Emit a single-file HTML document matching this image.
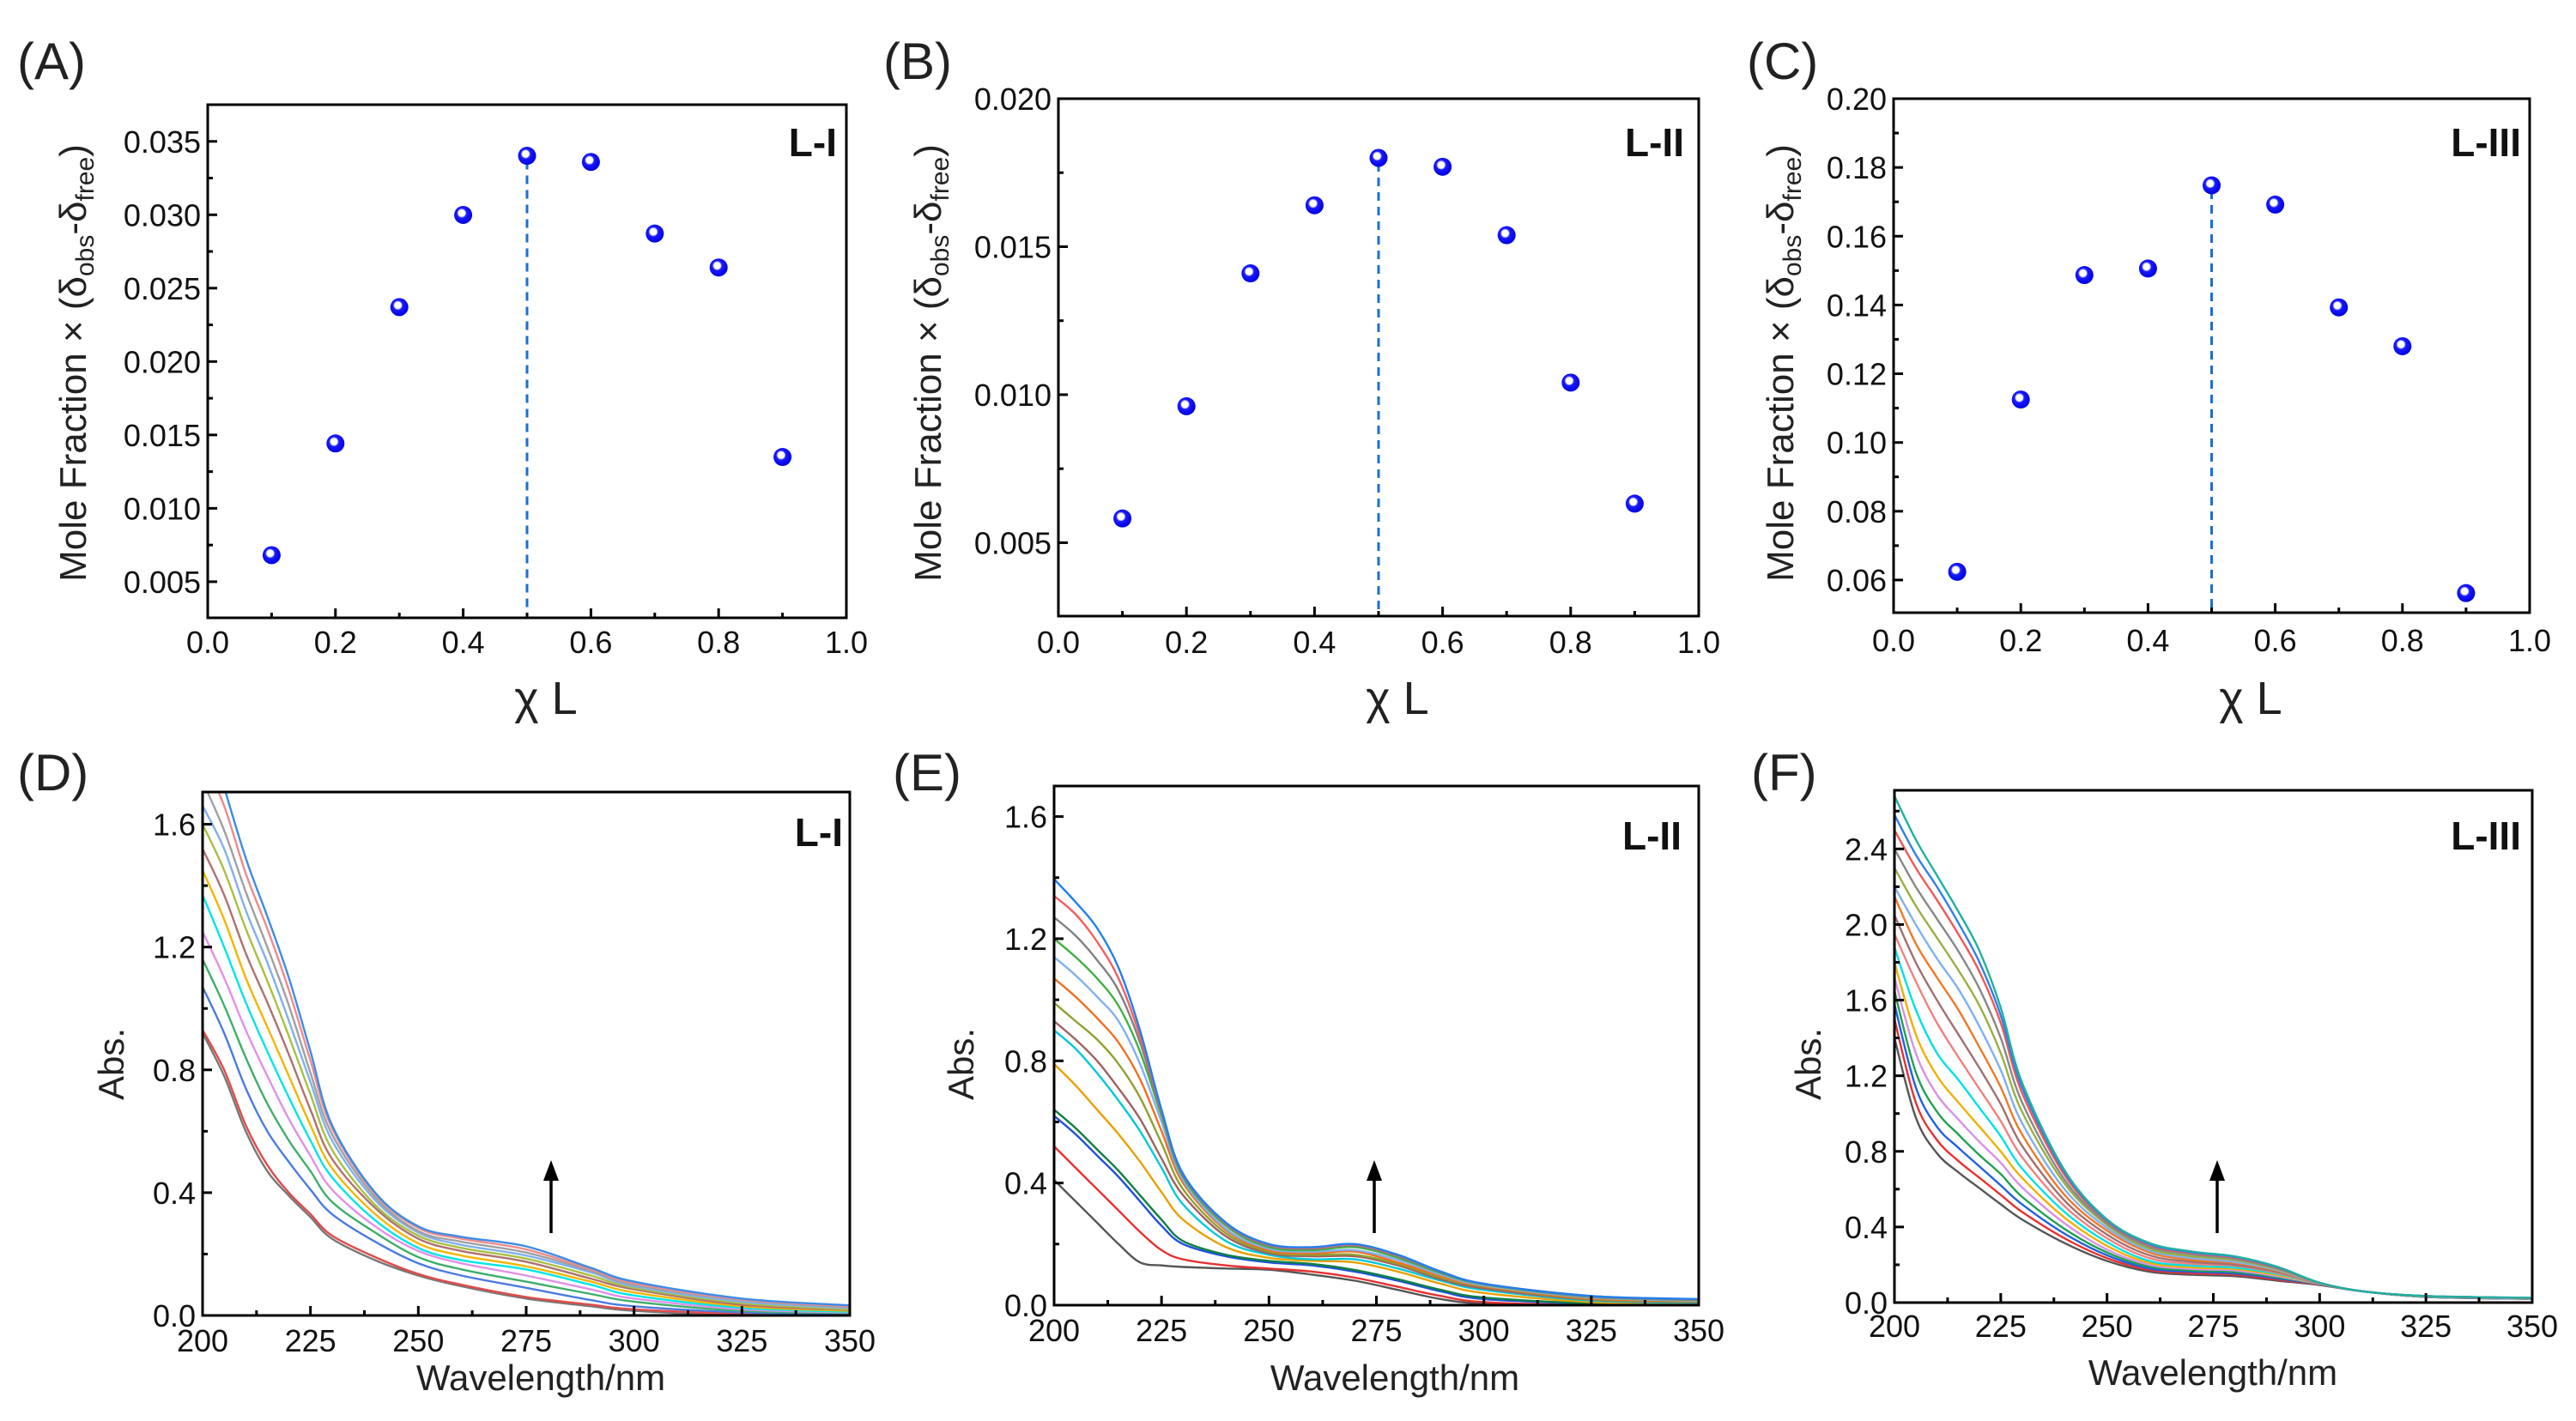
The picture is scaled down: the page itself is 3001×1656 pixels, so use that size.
<!DOCTYPE html>
<html><head><meta charset="utf-8"><style>
html,body{margin:0;padding:0;background:#fff;}
svg{display:block;font-family:"Liberation Sans",Arial,sans-serif;}
</style></head><body>
<svg id="fig" width="3001" height="1656" viewBox="0 0 3001 1656" xmlns="http://www.w3.org/2000/svg">
<defs>
<radialGradient id="ball" cx="0.42" cy="0.4" r="0.6">
<stop offset="0" stop-color="#ffffff"/><stop offset="0.3" stop-color="#ffffff"/><stop offset="0.45" stop-color="#1a1aff"/><stop offset="1" stop-color="#0000e0"/>
</radialGradient>
</defs>
</svg>
<script>
// ---------- Job plot data ----------
const jobX = [0.1,0.2,0.3,0.4,0.5,0.6,0.7,0.8,0.9];
const jobA = [0.00681,0.01442,0.02371,0.02999,0.03402,0.03360,0.02872,0.02641,0.01350];
const jobB = [0.00582,0.00961,0.01410,0.01640,0.01800,0.01770,0.01539,0.01041,0.00632];
const jobC = [0.0624,0.1125,0.1487,0.1506,0.1748,0.1692,0.1393,0.1280,0.0562];
const jobXTicks = [0,0.2,0.4,0.6,0.8,1.0];
const jobATicks = [0.005,0.010,0.015,0.020,0.025,0.030,0.035];
const jobBTicks = [0.005,0.010,0.015,0.020];
const jobCTicks = [0.06,0.08,0.10,0.12,0.14,0.16,0.18,0.20];
// ---------- UV spectra data ----------
const wlD = [200,205,210,215,220,225,230,240,250,260,275,290,300,325,350];
const specD = [
[0.92,0.78,0.60,0.47,0.39,0.32,0.25,0.18,0.13,0.095,0.055,0.03,0.015,0.0,0.0],
[0.93,0.80,0.62,0.49,0.40,0.33,0.26,0.19,0.135,0.10,0.06,0.035,0.02,0.005,0.0],
[1.07,0.92,0.74,0.60,0.50,0.41,0.33,0.24,0.17,0.13,0.09,0.05,0.03,0.01,0.005],
[1.16,1.01,0.84,0.69,0.57,0.47,0.37,0.27,0.19,0.15,0.11,0.07,0.045,0.015,0.008],
[1.25,1.10,0.93,0.78,0.64,0.52,0.41,0.29,0.21,0.17,0.13,0.085,0.055,0.02,0.01],
[1.37,1.20,1.02,0.86,0.71,0.57,0.45,0.31,0.22,0.18,0.15,0.10,0.065,0.025,0.012],
[1.45,1.29,1.10,0.94,0.78,0.62,0.48,0.33,0.235,0.195,0.16,0.11,0.075,0.03,0.015],
[1.52,1.37,1.18,1.02,0.85,0.67,0.51,0.35,0.25,0.21,0.175,0.12,0.085,0.035,0.018],
[1.60,1.45,1.26,1.09,0.91,0.72,0.54,0.36,0.26,0.22,0.185,0.13,0.09,0.04,0.02],
[1.66,1.52,1.32,1.15,0.96,0.76,0.57,0.375,0.27,0.23,0.195,0.14,0.095,0.045,0.024],
[1.74,1.58,1.38,1.20,1.01,0.79,0.59,0.385,0.275,0.24,0.205,0.145,0.10,0.05,0.027],
[1.82,1.66,1.44,1.26,1.06,0.83,0.61,0.395,0.285,0.25,0.215,0.15,0.105,0.052,0.03],
[1.95,1.72,1.49,1.30,1.10,0.86,0.62,0.40,0.29,0.256,0.225,0.155,0.11,0.055,0.033]
];
const colD = ["#777777","#e24a4a","#4a7be0","#3fae6a","#e090e8","#00e5e5","#f5b400","#b07070","#a8c040","#80b0f0","#a0a0a0","#f08a8a","#3a8de8"];
const wlE = [200,205,210,215,220,225,230,240,250,260,270,280,290,300,325,350];
const specE = [
[0.41,0.34,0.27,0.20,0.14,0.13,0.125,0.12,0.116,0.10,0.08,0.05,0.02,0.005,0,0],
[0.52,0.45,0.38,0.31,0.24,0.18,0.15,0.13,0.12,0.11,0.09,0.06,0.03,0.01,0,0],
[0.62,0.56,0.49,0.42,0.34,0.26,0.20,0.16,0.14,0.13,0.11,0.08,0.045,0.02,0.005,0],
[0.64,0.58,0.51,0.44,0.36,0.28,0.21,0.165,0.145,0.135,0.115,0.085,0.05,0.025,0.006,0],
[0.79,0.72,0.64,0.56,0.47,0.37,0.28,0.19,0.155,0.145,0.14,0.11,0.07,0.04,0.01,0.005],
[0.90,0.84,0.76,0.67,0.57,0.45,0.33,0.21,0.165,0.15,0.15,0.12,0.08,0.05,0.015,0.008],
[0.93,0.87,0.80,0.71,0.61,0.48,0.36,0.225,0.17,0.16,0.16,0.13,0.085,0.055,0.018,0.01],
[0.99,0.93,0.87,0.79,0.68,0.53,0.38,0.235,0.175,0.165,0.165,0.135,0.09,0.06,0.02,0.012],
[1.07,1.01,0.94,0.86,0.74,0.57,0.40,0.245,0.18,0.17,0.175,0.14,0.095,0.062,0.022,0.014],
[1.14,1.08,1.01,0.93,0.79,0.60,0.41,0.25,0.185,0.175,0.18,0.148,0.10,0.065,0.025,0.015],
[1.20,1.14,1.07,0.98,0.83,0.62,0.42,0.26,0.19,0.18,0.19,0.155,0.105,0.068,0.027,0.017],
[1.27,1.21,1.13,1.03,0.86,0.63,0.425,0.265,0.195,0.185,0.195,0.16,0.108,0.07,0.028,0.018],
[1.34,1.28,1.19,1.07,0.88,0.635,0.43,0.268,0.198,0.188,0.198,0.163,0.11,0.07,0.03,0.019],
[1.395,1.32,1.235,1.105,0.90,0.64,0.43,0.27,0.20,0.19,0.20,0.165,0.11,0.07,0.03,0.02]
];
const colE = ["#555555","#e83030","#2050e0","#108040","#e8a000","#00c8d8","#a06060","#90a030","#f07020","#80b0f0","#40b040","#808080","#f06060","#2080f0"];
const wlF = [200,205,210,215,220,225,230,240,250,260,270,280,290,300,310,325,350];
const specF = [
[1.40,0.98,0.79,0.69,0.605,0.52,0.44,0.315,0.22,0.163,0.147,0.14,0.116,0.093,0.06,0.03,0.02],
[1.50,1.06,0.86,0.75,0.66,0.57,0.48,0.34,0.235,0.172,0.155,0.148,0.122,0.095,0.06,0.03,0.02],
[1.58,1.14,0.93,0.82,0.72,0.62,0.52,0.365,0.25,0.18,0.163,0.155,0.128,0.097,0.06,0.03,0.02],
[1.65,1.22,1.01,0.89,0.78,0.68,0.56,0.39,0.265,0.19,0.17,0.162,0.134,0.098,0.06,0.031,0.021],
[1.72,1.32,1.10,0.97,0.85,0.74,0.61,0.42,0.28,0.20,0.178,0.17,0.14,0.099,0.06,0.031,0.021],
[1.80,1.42,1.20,1.06,0.93,0.80,0.66,0.45,0.30,0.21,0.186,0.178,0.146,0.10,0.06,0.032,0.022],
[1.88,1.55,1.32,1.18,1.03,0.88,0.71,0.48,0.32,0.22,0.195,0.185,0.152,0.10,0.06,0.032,0.022],
[1.95,1.70,1.48,1.30,1.13,0.96,0.77,0.51,0.34,0.235,0.205,0.195,0.158,0.10,0.06,0.033,0.022],
[2.05,1.80,1.60,1.42,1.24,1.05,0.83,0.54,0.36,0.25,0.215,0.20,0.163,0.102,0.06,0.033,0.023],
[2.15,1.90,1.72,1.55,1.35,1.14,0.89,0.57,0.38,0.265,0.225,0.21,0.168,0.102,0.06,0.033,0.023],
[2.20,2.00,1.82,1.66,1.46,1.23,0.95,0.60,0.395,0.275,0.235,0.215,0.172,0.103,0.06,0.034,0.023],
[2.30,2.10,1.93,1.76,1.57,1.32,1.01,0.63,0.41,0.285,0.245,0.225,0.177,0.104,0.06,0.034,0.024],
[2.40,2.20,2.03,1.86,1.66,1.40,1.06,0.65,0.42,0.295,0.255,0.232,0.181,0.104,0.06,0.034,0.024],
[2.50,2.30,2.13,1.95,1.75,1.48,1.11,0.675,0.43,0.305,0.262,0.238,0.185,0.105,0.06,0.035,0.024],
[2.58,2.37,2.20,2.01,1.80,1.52,1.14,0.69,0.435,0.31,0.266,0.242,0.188,0.105,0.06,0.035,0.025],
[2.68,2.45,2.26,2.07,1.86,1.56,1.165,0.70,0.44,0.315,0.27,0.245,0.19,0.105,0.06,0.035,0.025]
];
const colF = ["#555555","#e83030","#2060e0","#20a050","#d890e8","#f0b000","#00e0e8","#f08080","#a07070","#f07828","#80b0f0","#98b040","#888888","#f05858","#3080e8","#20b0a0"];
const wlTicks = [200,225,250,275,300,325,350];
const absTicksD = [0.0,0.4,0.8,1.2,1.6];
const absTicksE = [0.0,0.4,0.8,1.2,1.6];
const absTicksF = [0.0,0.4,0.8,1.2,1.6,2.0,2.4];

const NS = "http://www.w3.org/2000/svg";
const svg = document.getElementById('fig');
function mk(tag, attrs, parent){const e=document.createElementNS(NS,tag);for(const k in attrs)e.setAttribute(k,attrs[k]);(parent||svg).appendChild(e);return e;}
function txt(s, attrs, parent){const e=mk('text',attrs,parent);e.textContent=s;return e;}

function axes(p){
  const g = mk('g',{});
  
  
  const sx = v => p.L + (v - p.x0)/(p.x1 - p.x0)*(p.R - p.L);
  const sy = v => p.B - (v - p.y0)/(p.y1 - p.y0)*(p.B - p.T);
  p.sx = sx; p.sy = sy; p.g = g;
  const cid = 'clip-' + p.name;
  const cp = mk('clipPath',{id:cid},g); mk('rect',{x:p.L,y:p.T,width:p.R-p.L,height:p.B-p.T},cp);
  p.clip = cid;
  return p;
}
function frame(p){
  const g=p.g;
  const fr = mk('rect',{x:p.L,y:p.T,width:p.R-p.L,height:p.B-p.T,fill:'none',stroke:'#000','stroke-width':3},g);
  
  
  p.xt.forEach((v,i)=>{
    const x=p.sx(v);
    const t = mk('line',{x1:x,x2:x,y1:p.B,y2:p.B-11,stroke:'#000','stroke-width':3},g);
    
    
    if(i<p.xt.length-1){const xm=p.sx((v+p.xt[i+1])/2);mk('line',{x1:xm,x2:xm,y1:p.B,y2:p.B-6,stroke:'#000','stroke-width':3},g);}
    const lb = txt(p.xfmt(v),{x:x,y:p.xly,'text-anchor':'middle','font-size':36,fill:'#111'},g);
    
    
  });
  p.yt.forEach((v,i)=>{
    const y=p.sy(v);
    const t = mk('line',{x1:p.L,x2:p.L+11,y1:y,y2:y,stroke:'#000','stroke-width':3},g);
    
    
    const step = p.yt.length>1 ? p.yt[1]-p.yt[0] : 0;
    const vm=v+step/2; if(vm<p.y1){const ym=p.sy(vm);mk('line',{x1:p.L,x2:p.L+6,y1:ym,y2:ym,stroke:'#000','stroke-width':3},g);}
    const lb = txt(p.yfmt(v),{x:p.L-8,y:y+13,'text-anchor':'end','font-size':36,fill:'#111'},g);
    
    
  });
  const lt = txt(p.letter,{x:p.lx,y:p.ly+4,'font-size':60,fill:'#222'},g);
  
  
  const tg = txt(p.tag,{x:p.tx,y:p.ty,'text-anchor':'end','font-size':46,'font-weight':'bold',fill:'#111'},g);
  
  
}
function jobPanel(p, ys){
  axes(p);
  const g=p.g;
  const xv=p.sx(0.5), yv=p.sy(ys[4]);
  const dl = mk('line',{x1:xv,x2:xv,y1:yv+6,y2:p.B,stroke:'#1a6fd0','stroke-width':3,'stroke-dasharray':'10,7'},g);
  
  
  jobX.forEach((x,i)=>{
    const c = mk('circle',{cx:p.sx(x),cy:p.sy(ys[i]),r:10.5,fill:'url(#ball)'},g);
    
    
  });
  frame(p);
  const yl = txt('',{transform:`translate(${p.ylx},${p.yly}) rotate(-90)`,'text-anchor':'middle','font-size':44,fill:'#222'},g);
  
  
  yl.innerHTML = 'Mole Fraction × (δ<tspan font-size="30" dy="9">obs</tspan><tspan dy="-9">-δ</tspan><tspan font-size="30" dy="9">free</tspan><tspan dy="-9">)</tspan>';
  const xl = txt('χ L',{x:p.xlx,y:832,'text-anchor':'middle','font-size':54,fill:'#222'},g);
  
  
}
function smoothPath(pts){
  let d='M'+pts[0][0].toFixed(1)+','+pts[0][1].toFixed(1);
  for(let i=0;i<pts.length-1;i++){
    const p0=pts[i-1]||pts[i],p1=pts[i],p2=pts[i+1],p3=pts[i+2]||pts[i+1];
    const c1=[p1[0]+(p2[0]-p0[0])/6,p1[1]+(p2[1]-p0[1])/6];
    const c2=[p2[0]-(p3[0]-p1[0])/6,p2[1]-(p3[1]-p1[1])/6];
    d+=`C${c1[0].toFixed(1)},${c1[1].toFixed(1)} ${c2[0].toFixed(1)},${c2[1].toFixed(1)} ${p2[0].toFixed(1)},${p2[1].toFixed(1)}`;
  }
  return d;
}
function specPanel(p, wl, spec, cols){
  axes(p);
  const g=p.g;
  const cg = mk('g',{'clip-path':`url(#${p.clip})`},g);
  spec.forEach((row,i)=>{
    const pts=row.map((v,j)=>[p.sx(wl[j]),p.sy(v)]);
    const path = mk('path',{d:smoothPath(pts),fill:'none',stroke:cols[i%cols.length],'stroke-width':2.4},cg);
    
    
  });
  frame(p);
  const ar = mk('g',{},g);
  
  
  mk('line',{x1:p.ax,x2:p.ax,y1:1437,y2:1372,stroke:'#000','stroke-width':3.5},ar);
  mk('polygon',{points:`${p.ax-9},1376 ${p.ax+9},1376 ${p.ax},1352`,fill:'#000'},ar);
  const yl = txt('Abs.',{transform:`translate(${p.ylx+15},1240) rotate(-90)`,'text-anchor':'middle','font-size':42,fill:'#222'},g);
  
  
  const xl = txt('Wavelength/nm',{x:p.xlx,y:p.xlby,'text-anchor':'middle','font-size':42,fill:'#222'},g);
  
  
}
const f1=v=>v.toFixed(1), f3=v=>v.toFixed(3), f2=v=>v.toFixed(2), f0=v=>String(v);
jobPanel({name:'panel-a',L:242,R:986,T:122,B:720,x0:0,x1:1,y0:0.00254,y1:0.0375,xt:jobXTicks,yt:jobATicks,xfmt:f1,yfmt:f3,xly:761,letter:'(A)',lx:20,ly:88,tag:'L-I',tx:975,ty:182,ylx:100,yly:423,xlx:636},jobA);
jobPanel({name:'panel-b',L:1233,R:1979,T:115,B:718,x0:0,x1:1,y0:0.00252,y1:0.020,xt:jobXTicks,yt:jobBTicks,xfmt:f1,yfmt:f3,xly:761,letter:'(B)',lx:1029,ly:88,tag:'L-II',tx:1962,ty:182,ylx:1096,yly:423,xlx:1628},jobB);
jobPanel({name:'panel-c',L:2206,R:2947,T:115,B:714,x0:0,x1:1,y0:0.0505,y1:0.20,xt:jobXTicks,yt:jobCTicks,xfmt:f1,yfmt:f2,xly:759,letter:'(C)',lx:2035,ly:88,tag:'L-III',tx:2937,ty:182,ylx:2089,yly:423,xlx:2622},jobC);
specPanel({name:'panel-d',L:236,R:990,T:923,B:1533,x0:200,x1:350,y0:0,y1:1.705,xt:wlTicks,yt:absTicksD,xfmt:f0,yfmt:f1,xly:1575,letter:'(D)',lx:20,ly:917,tag:'L-I',tx:982,ty:986,ax:642,ylx:129,xlx:630,xlby:1620},wlD,specD,colD);
specPanel({name:'panel-e',L:1228,R:1979,T:916,B:1521,x0:200,x1:350,y0:0,y1:1.70,xt:wlTicks,yt:absTicksE,xfmt:f0,yfmt:f1,xly:1563,letter:'(E)',lx:1040,ly:917,tag:'L-II',tx:1959,ty:990,ax:1601,ylx:1119,xlx:1625,xlby:1620},wlE,specE,colE);
specPanel({name:'panel-f',L:2207,R:2950,T:921,B:1518,x0:200,x1:350,y0:0,y1:2.71,xt:wlTicks,yt:absTicksF,xfmt:f0,yfmt:f1,xly:1558,letter:'(F)',lx:2040,ly:917,tag:'L-III',tx:2937,ty:990,ax:2583,ylx:2106,xlx:2578,xlby:1614},wlF,specF,colF);
</script>
</body></html>
